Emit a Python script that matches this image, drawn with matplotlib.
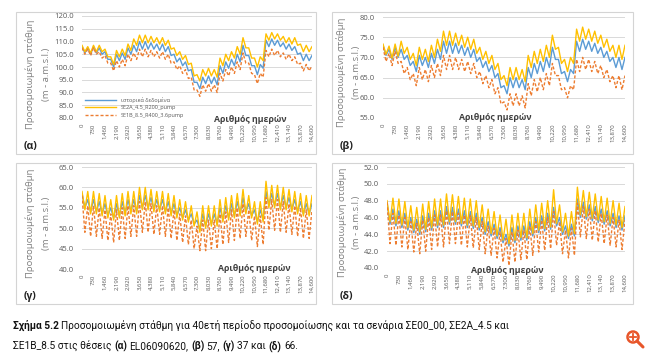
import numpy as np
import matplotlib
matplotlib.use("Agg")
import matplotlib.pyplot as plt
from matplotlib.patches import Rectangle, Circle
from matplotlib.lines import Line2D
from matplotlib.ticker import FuncFormatter

plt.rcParams['font.family'] = ['Open Sans', 'DejaVu Sans']

# --------------------------------------------
# Data (yearly high / low values)
# --------------------------------------------

day_ticks = list(range(0, 14601, 730))
series_names = ["ιστορικά δεδομένα", "SE2A_4.5_R200_pump", "SE1B_8.5_R400_3.6pump"]

# (α) EL06090620
a_hist_peaks = [108, 107.5, 108, 107.5, 106, 103, 105, 105.5, 107.5, 108.5, 110, 110, 109.5, 109, 109, 108, 105, 103.5, 102, 99, 94, 96, 96.5, 96, 100.5, 102, 103,
                105, 108.5, 104.5, 100.5, 101, 110.5, 111, 110.5, 109.5, 109, 108, 105.5, 105, 104.5]
a_hist_lows = [105.5, 105, 105.5, 105, 103, 100, 102.5, 103, 105, 106, 107, 107, 107, 106.5, 106, 104.5, 102, 100.5, 98.5, 94, 91.5, 93.5, 93.5, 93, 97.5, 99.5, 100.5,
               102, 104.5, 100.5, 97, 99.5, 108, 108.5, 108, 107, 106.5, 105, 102.5, 102.5]
a_s2a_peaks = [108.5, 108, 108.5, 108.5, 107, 104, 106.5, 107, 109, 111, 112.5, 112.5, 112, 111.5, 111.5, 110.5, 107.5, 106, 104.5, 101.5, 97, 99, 99.5, 99, 103.5, 105, 106,
               108, 111.5, 107.5, 103.5, 104, 113, 113.5, 113, 112, 111.5, 111.5, 109, 108.5, 108]
a_s2a_lows = [106, 105.5, 106, 106, 104, 101, 104, 104.5, 106.5, 108.5, 109.5, 109.5, 109.5, 109, 108.5, 107, 104.5, 103, 101, 96.5, 94.5, 96.5, 96.5, 96, 100.5, 102.5, 103.5,
              105, 107.5, 103.5, 100, 102.5, 110.5, 111, 110.5, 109.5, 109, 108.5, 106, 106]
a_s1b_peaks = [107.5, 107, 107.5, 106, 104.5, 101.5, 102.5, 103, 105, 105.5, 107, 107, 106.5, 106, 106, 105, 102, 100.5, 99, 96, 91, 93, 93.5, 93, 97.5, 99, 100,
               102, 105.5, 101.5, 97, 97.5, 106.5, 107, 106.5, 105.5, 105, 104, 101.5, 101, 100.5]
a_s1b_lows = [105, 104.5, 105, 103.5, 101.5, 98.5, 100, 100.5, 102.5, 103, 104, 104, 104, 103.5, 103, 101.5, 99, 97.5, 95.5, 91, 88.5, 90.5, 90.5, 90, 94.5, 96.5, 97.5,
              99, 101.5, 97.5, 93.5, 96, 104, 104.5, 104, 103, 102.5, 101, 98.5, 98.5]

# (β) 57
b_hist_peaks = [73, 72, 72.5, 72, 70.5, 69, 70.5, 70, 71, 72, 74, 74, 73.5, 73, 72.5, 72, 70, 69, 68, 66, 63, 65, 65, 64.5, 67.5, 68.5, 69, 70,
                72.5, 69.5, 66.5, 67, 74, 74.5, 74, 73.5, 72.5, 71.5, 70, 70, 70]
b_hist_lows = [70.5, 69.5, 70, 69.5, 68, 66.5, 68, 67.5, 68.5, 69.5, 71, 71, 71, 70.5, 70, 69, 67.5, 66.5, 65, 62.5, 61, 62.5, 62.5, 62, 65, 66, 66.5, 67.5,
               69.5, 66, 64, 66, 71.5, 72, 71.5, 71, 70, 69, 67.5, 67]
b_s2a_peaks = [73.3, 72.8, 73.3, 74, 72.5, 71, 72.5, 72, 73, 74.5, 76.5, 76.5, 76, 75.5, 75, 74.5, 72.5, 71.5, 70.5, 68.5, 65.5, 67.5, 67.5, 67, 70.5, 71.5, 72, 73,
               75.5, 72.5, 69.5, 70, 77, 77.5, 77, 76.5, 75.5, 74.5, 73, 73, 73]
b_s2a_lows = [70.8, 69.8, 70.3, 71, 69.5, 68, 69.5, 69, 70, 71.5, 73, 73, 73, 72.5, 72, 71, 69.5, 68.5, 67, 64.5, 63, 64.5, 64.5, 64, 67.5, 68.5, 69, 70,
              72, 68.5, 66.5, 68.5, 74, 74.5, 74, 73.5, 72.5, 71.5, 70, 69.5]
b_s1b_peaks = [72.5, 71, 71.5, 69, 67.5, 66, 67.5, 67, 68, 68.5, 70.5, 70.5, 70, 69.5, 69, 68.5, 66.5, 65.5, 64.5, 62.5, 59, 61, 61, 60.5, 63.5, 64.5, 65, 66,
               68.5, 65.5, 62.5, 63, 69.5, 70, 69.5, 69, 68, 67, 65.5, 65.5, 65.5]
b_s1b_lows = [69, 68, 68.5, 66, 64.5, 63, 64.5, 64, 65, 65.5, 67, 67, 67, 66.5, 66, 65, 63.5, 62.5, 61, 58.5, 57, 58, 58, 57.5, 60.5, 61.5, 62, 63,
              65.5, 62, 60, 62, 66.5, 67, 66.5, 66, 65, 64, 62.5, 62]

# (γ) 37
c_hist_peaks = [58.5, 57, 57, 56.5, 56, 55, 56, 56.5, 57, 57, 58, 58, 57.5, 57, 57, 56.5, 56, 55, 54.5, 53.5, 52, 53.5, 53.5, 53.5, 55, 55.5, 56, 56.5,
                57.5, 56, 54.5, 54.5, 59, 58.5, 58.5, 58, 57.5, 57, 56.5, 56, 56]
c_hist_lows = [55, 54, 54, 53.5, 53, 52.5, 53, 53.5, 54, 54, 55, 55, 54.5, 54.5, 54, 53.5, 53, 52.5, 52, 51, 49.5, 50.5, 51, 51, 52, 52.5, 53, 53.5,
               54, 53, 51.5, 52, 55.5, 55.5, 55, 55, 54.5, 54, 53.5, 53.5]
c_s2a_peaks = [59, 59, 59, 58.5, 58, 57, 58, 58.5, 59, 59, 60, 60, 59.5, 59, 59, 58.5, 58, 57, 56.5, 55.5, 54, 55.5, 55.5, 55.5, 57, 57.5, 58, 58.5,
               59.5, 58, 56.5, 56.5, 61.5, 60.5, 60.5, 60, 59.5, 59, 58.5, 58, 58]
c_s2a_lows = [54.5, 53.5, 53.5, 53, 52.5, 52, 52.5, 53, 53.5, 53.5, 54.5, 54.5, 54, 54, 53.5, 53, 52.5, 52, 51.5, 50.5, 49, 50, 50.5, 50.5, 51.5, 52, 52.5, 53,
              53.5, 52.5, 51, 51.5, 55, 55, 54.5, 54.5, 54, 53.5, 53, 53]
c_s1b_peaks = [58, 55.5, 55.5, 55, 54.5, 53.5, 54.5, 55, 55.5, 55.5, 56.5, 56.5, 56, 55.5, 55.5, 55, 54.5, 53.5, 53, 52, 50.5, 52, 52, 52, 53.5, 54, 54.5, 55,
               56, 54.5, 53, 53, 57.5, 57, 57, 56.5, 56, 55.5, 55, 54.5, 54.5]
c_s1b_lows = [49, 48, 48, 47.5, 47, 46.5, 47, 47.5, 48, 48, 49, 49, 48.5, 48.5, 48, 47.5, 47, 46.5, 46, 45, 44.5, 44.5, 45, 45, 46, 46.5, 47, 47.5,
              48, 47, 45.5, 46, 49.5, 49.5, 49, 49, 48.5, 48, 47.5, 47.5]

# (δ) 66
d_hist_peaks = [47.8, 47, 46.8, 46.5, 46, 45.8, 46.2, 46.5, 46.8, 46.8, 47.3, 47.2, 47, 46.8, 46.7, 46.5, 46, 45.5, 45.2, 44.8, 44, 44.8, 45, 45, 45.5, 46, 46.2, 46.5,
                47.2, 46, 45, 45.2, 48.2, 47.8, 47.5, 47.3, 47, 46.8, 46.5, 46.2, 46.2]
d_hist_lows = [45.2, 45, 44.8, 44.5, 44.2, 44, 44.3, 44.5, 44.8, 44.8, 45.2, 45.2, 45, 44.8, 44.7, 44.5, 44, 43.8, 43.5, 43, 42.6, 43, 43.3, 43.3, 43.8, 44.2, 44.4, 44.6,
               45, 44, 43.5, 43.8, 46, 45.8, 45.6, 45.4, 45.2, 45, 44.8, 44.5]
d_s2a_peaks = [48, 48.3, 48.2, 47.9, 47.4, 47.2, 47.6, 47.9, 48.2, 48.2, 48.8, 48.7, 48.5, 48.3, 48.2, 48, 47.5, 47, 46.7, 46.3, 45.8, 46.3, 46.5, 46.5, 47, 47.5, 47.7, 48,
               49.3, 47.5, 46.5, 46.7, 49.6, 49.2, 49, 48.8, 48.5, 48.3, 48, 47.7, 47.3]
d_s2a_lows = [45.5, 45.3, 45.1, 44.8, 44.5, 44.3, 44.6, 44.8, 45.1, 45.1, 45.5, 45.5, 45.3, 45.1, 45, 44.8, 44.3, 44.1, 43.8, 43.3, 42.9, 43.3, 43.6, 43.6, 44.1, 44.5, 44.7, 44.9,
              45.3, 44.3, 43.8, 44.1, 46.3, 46.1, 45.9, 45.7, 45.5, 45.3, 45.1, 44.8]
d_s1b_peaks = [47.8, 46.5, 46.3, 46, 45.5, 45.3, 45.7, 46, 46.3, 46.3, 46.8, 46.7, 46.5, 46.3, 46.2, 46, 45.5, 45, 44.7, 44.3, 43.5, 44.3, 44.5, 44.5, 45, 45.5, 45.7, 46,
               46.7, 45.5, 44.5, 44.7, 47.7, 47.3, 47, 46.8, 46.5, 46.3, 46, 45.7, 45.7]
d_s1b_lows = [42.9, 42.7, 42.5, 42.2, 41.9, 41.7, 42, 42.2, 42.5, 42.5, 42.9, 42.9, 42.7, 42.5, 42.4, 42.2, 41.7, 41.5, 41.2, 40.7, 40.3, 40.7, 41, 41, 41.5, 41.9, 42.1, 42.3,
              42.7, 41.7, 41.2, 41.5, 43.7, 43.5, 43.3, 43.1, 42.9, 42.7, 42.5, 42.2]

# --------------------------------------------
# Helpers
# --------------------------------------------

days = np.linspace(0, 14600, 81)


def zigzag(peaks, lows):
    vals = np.empty(len(peaks) + len(lows))
    vals[0::2] = peaks
    vals[1::2] = lows
    return vals


W, H = 650, 359
fig = plt.figure(figsize=(W / 100, H / 100), dpi=100)
fig.patch.set_facecolor("white")


def px_rect(x0, y0, x1, y1):
    # pixel box (top-left origin) -> figure fraction
    return [x0 / W, 1 - y1 / H, (x1 - x0) / W, (y1 - y0) / H]


colors = ["#5B9BD5", "#FFC000", "#ED7D31"]
gray = "#595959"

panels = [
    dict(box=(16, 12, 316, 154), ax=(82, 16, 312, 118), ylim=(80, 120), step=5, fmt="{:.1f}",
         data=[(a_hist_peaks, a_hist_lows), (a_s2a_peaks, a_s2a_lows), (a_s1b_peaks, a_s1b_lows)],
         ylab=(30, 47, 74), xlab=(10665, 79.6), tag="(α)", tagpos=(24, 147), legend=True),
    dict(box=(332, 12, 633, 154), ax=(383, 17, 625, 118), ylim=(55, 80), step=5, fmt="{:.1f}",
         data=[(b_hist_peaks, b_hist_lows), (b_s2a_peaks, b_s2a_lows), (b_s1b_peaks, b_s1b_lows)],
         ylab=(341, 356, 72), xlab=(6757, 55.2), tag="(β)", tagpos=(340, 147), legend=False),
    dict(box=(16, 163, 316, 304), ax=(82, 167, 312, 269), ylim=(40, 65), step=5, fmt="{:.1f}",
         data=[(c_hist_peaks, c_hist_lows), (c_s2a_peaks, c_s2a_lows), (c_s1b_peaks, c_s1b_lows)],
         ylab=(30, 47, 223), xlab=(10918, 40.2), tag="(γ)", tagpos=(24, 297), legend=False),
    dict(box=(332, 163, 633, 304), ax=(387, 167, 625, 268), ylim=(40, 52), step=2, fmt="{:.1f}",
         data=[(d_hist_peaks, d_hist_lows), (d_s2a_peaks, d_s2a_lows), (d_s1b_peaks, d_s1b_lows)],
         ylab=(342, 357, 222), xlab=(7361, 39.7), tag="(δ)", tagpos=(340, 297), legend=False),
]

for p in panels:
    fig.add_artist(Rectangle(px_rect(*p["box"])[:2], *px_rect(*p["box"])[2:],
                             transform=fig.transFigure, fill=False, ec="#d4d4d4", lw=0.8))

    ax = fig.add_axes(px_rect(*p["ax"]))
    for i, (pk, lo) in enumerate(p["data"]):
        ls = (0, (2.2, 1.4)) if i == 2 else "-"
        ax.plot(days, zigzag(pk, lo), color=colors[i], lw=1.0, ls=ls, label=series_names[i])

    ax.set_xlim(0, 14600)
    ax.set_ylim(*p["ylim"])
    ax.set_yticks(np.arange(p["ylim"][0], p["ylim"][1] + 0.01, p["step"]))
    ax.yaxis.set_major_formatter(FuncFormatter(lambda v, pos, f=p["fmt"]: f.format(v)))
    ax.set_xticks(day_ticks)
    ax.xaxis.set_major_formatter(FuncFormatter(lambda v, pos: "{:,}".format(int(v))))
    ax.tick_params(axis="x", labelrotation=90, labelsize=4.3, colors=gray, length=0, pad=4)
    ax.tick_params(axis="y", labelsize=5.5, colors=gray, length=0, pad=6)
    for s in ax.spines.values():
        s.set_visible(False)
    ax.yaxis.grid(True, color="#d9d9d9", lw=0.7)
    ax.set_axisbelow(True)

    ax.text(p["xlab"][0], p["xlab"][1], "Αριθμός ημερών", fontsize=6.3, fontweight="bold",
            color="#404040", ha="center", va="center", zorder=5,
            bbox=dict(boxstyle="square,pad=0.1", fc="white", ec="none"))

    x1, x2, yc = p["ylab"]
    fig.text(x1 / W, 1 - yc / H, "Προσομοιωμένη στάθμη", rotation=90, fontsize=6.8,
             color="#7f7f7f", ha="center", va="center")
    fig.text(x2 / W, 1 - yc / H, "(m - a.m.s.l.)", rotation=90, fontsize=6.8,
             color="#7f7f7f", ha="center", va="center")

    fig.text(p["tagpos"][0] / W, 1 - p["tagpos"][1] / H, p["tag"], fontsize=7.5,
             fontweight="bold", color="#222222", ha="left", va="center")

    if p["legend"]:
        ax.legend(loc="lower left", bbox_to_anchor=(0.0, -0.03), frameon=False, fontsize=4,
                  handlelength=5.5, handletextpad=0.9, labelspacing=0.45,
                  labelcolor=gray, borderaxespad=0.2)

# --------------------------------------------
# Caption (mixed bold / regular)
# --------------------------------------------

renderer = fig.canvas.get_renderer()
cap_font = ["Roboto", "DejaVu Sans"]


def measure(parts, size):
    total = 0
    tmp = []
    for txt, bold in parts:
        t = fig.text(0, 0, txt, fontsize=size, family=cap_font, fontweight="bold" if bold else "normal")
        total += t.get_window_extent(renderer).width
        tmp.append(t)
    a = fig.text(0, 0, "a a", fontsize=size, family=cap_font)
    b = fig.text(0, 0, "aa", fontsize=size, family=cap_font)
    sp = a.get_window_extent(renderer).width - b.get_window_extent(renderer).width
    for t in tmp + [a, b]:
        t.remove()
    return total + sp * (len(parts) - 1), sp


def rich_line(x_px, y_px, parts, size):
    _, sp = measure(parts, size)
    x = x_px
    for txt, bold in parts:
        t = fig.text(x / W, 1 - y_px / H, txt, fontsize=size, ha="left", va="center", family=cap_font,
                     fontweight="bold" if bold else "normal", color="#111111")
        x += t.get_window_extent(renderer).width + sp


line1 = [("Σχήμα 5.2", True),
         ("Προσομοιωμένη στάθμη για 40ετή περίοδο προσομοίωσης και τα σενάρια ΣΕ00_00, ΣΕ2Α_4.5 και", False)]
line2 = [("ΣΕ1Β_8.5 στις θέσεις", False), ("(α)", True), ("EL06090620,", False), ("(β)", True),
         ("57,", False), ("(γ)", True), ("37 και", False), ("(δ)", True), ("66.", False)]

# fit the first line to its width in the page (13 px -> 505 px)
w9, _ = measure(line1, 9)
cap_size = 9 * 492 / w9
rich_line(13, 325, line1, cap_size)
rich_line(13, 346, line2, cap_size)

# zoom icon
icon = "#E8562A"
cx, cy = 6.33, (H - 337) / 100
fig.add_artist(Circle((cx, cy), 0.055, transform=fig.dpi_scale_trans, fill=False, ec=icon, lw=1.8))
fig.add_artist(Line2D([cx + 0.04, cx + 0.10], [cy - 0.04, cy - 0.10], transform=fig.dpi_scale_trans,
                      color=icon, lw=2.2, solid_capstyle="round"))
fig.add_artist(Line2D([cx - 0.028, cx + 0.028], [cy, cy], transform=fig.dpi_scale_trans, color=icon, lw=1.3))
fig.add_artist(Line2D([cx, cx], [cy - 0.028, cy + 0.028], transform=fig.dpi_scale_trans, color=icon, lw=1.3))

fig.savefig("out.png", dpi=100)
